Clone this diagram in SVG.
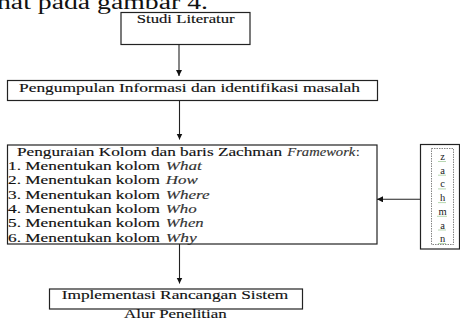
<svg xmlns="http://www.w3.org/2000/svg" width="460" height="322" viewBox="0 0 460 322">
<style>
.box{fill:#fff;stroke:#222;stroke-width:1.2}
.t{font-family:"Liberation Serif","Times New Roman",serif;font-size:13px;fill:#111;stroke:#111;stroke-width:0.15}
.i{font-style:italic;fill:#333;stroke:#333}
.z{font-family:"Liberation Serif","Times New Roman",serif;font-size:10.5px;fill:#222;text-anchor:middle}
.conn line{stroke:#222;stroke-width:1.1;marker-end:url(#ah)}
.sq{stroke:#4a9a3a;stroke-width:0.8;stroke-dasharray:1 1;fill:none}
</style>
<defs>
<marker id="ah" markerUnits="userSpaceOnUse" markerWidth="7" markerHeight="7" refX="6" refY="3" orient="auto">
<path d="M0,0 L6,3 L0,6 z" fill="#111"/>
</marker>
</defs>
<rect width="460" height="322" fill="#fff"/>
<text x="-3" y="8.5" font-family="Liberation Serif,serif" font-size="20" fill="#111" textLength="211" lengthAdjust="spacingAndGlyphs">hat pada gambar 4.</text>

<g id="n1">
<rect class="box" x="121" y="12.5" width="129" height="32"/>
<text class="t" x="136.7" y="23.3" textLength="98" lengthAdjust="spacingAndGlyphs">Studi Literatur</text>
</g>
<g id="n2">
<rect class="box" x="7.5" y="80.5" width="370" height="20"/>
<text class="t" x="19" y="91.7" textLength="341" lengthAdjust="spacingAndGlyphs">Pengumpulan Informasi dan identifikasi masalah</text>
</g>
<g id="n3">
<rect class="box" x="7.5" y="145" width="369.5" height="99"/>
<text class="t" x="17" y="155.7" textLength="265" lengthAdjust="spacingAndGlyphs">Penguraian Kolom dan baris Zachman</text>
<text class="t i" x="287.3" y="155.7" textLength="68" lengthAdjust="spacingAndGlyphs">Framework</text>
<text class="t" x="356" y="155.7">:</text>
<text class="t" x="8" y="170" textLength="152" lengthAdjust="spacingAndGlyphs">1. Menentukan kolom</text>
<text class="t i" x="165.7" y="170" textLength="36" lengthAdjust="spacingAndGlyphs">What</text>
<text class="t" x="8" y="184.3" textLength="152" lengthAdjust="spacingAndGlyphs">2. Menentukan kolom</text>
<text class="t i" x="165.7" y="184.3" textLength="32" lengthAdjust="spacingAndGlyphs">How</text>
<text class="t" x="8" y="198.6" textLength="152" lengthAdjust="spacingAndGlyphs">3. Menentukan kolom</text>
<text class="t i" x="165.7" y="198.6" textLength="44" lengthAdjust="spacingAndGlyphs">Where</text>
<text class="t" x="8" y="212.9" textLength="152" lengthAdjust="spacingAndGlyphs">4. Menentukan kolom</text>
<text class="t i" x="165.7" y="212.9" textLength="31" lengthAdjust="spacingAndGlyphs">Who</text>
<text class="t" x="8" y="227.2" textLength="152" lengthAdjust="spacingAndGlyphs">5. Menentukan kolom</text>
<text class="t i" x="165.7" y="227.2" textLength="38" lengthAdjust="spacingAndGlyphs">When</text>
<text class="t" x="8" y="241.5" textLength="152" lengthAdjust="spacingAndGlyphs">6. Menentukan kolom</text>
<text class="t i" x="165.7" y="241.5" textLength="31" lengthAdjust="spacingAndGlyphs">Why</text>
</g>
<g id="n4">
<rect class="box" x="49.5" y="289" width="253" height="20"/>
<text class="t" x="61.7" y="298.5" textLength="226.6" lengthAdjust="spacingAndGlyphs">Implementasi Rancangan Sistem</text>
</g>
<g id="caption">
<text class="t" x="124" y="317.5" textLength="102.7" lengthAdjust="spacingAndGlyphs">Alur Penelitian</text>
</g>
<g id="n5">
<rect class="box" x="420.5" y="144.5" width="39" height="104.5"/>
<rect x="431.5" y="148.5" width="22" height="96" fill="none" stroke="#666" stroke-width="0.8" stroke-dasharray="1.5 1"/>
<text class="z" x="442.5" y="160">z</text>
<text class="z" x="442.5" y="173.7">a</text>
<text class="z" x="442.5" y="187.4">c</text>
<text class="z" x="442.5" y="201.1">h</text>
<text class="z" x="442.5" y="214.8">m</text>
<text class="z" x="442.5" y="228.5">a</text>
<text class="z" x="442.5" y="242.2">n</text>
<path class="sq" d="M438.5,161.5h8 M438.5,175.2h8 M438.5,188.9h8 M438.5,202.6h8 M437.5,216.3h10 M438.5,230h8 M438.5,243.5h8"/>
</g>
<g class="conn" id="connectors">
<line x1="179" y1="44.5" x2="179" y2="76"/>
<line x1="179.5" y1="100.5" x2="179.5" y2="139.5"/>
<line x1="179.5" y1="244" x2="179.5" y2="283.5"/>
<line x1="420.5" y1="199.3" x2="377" y2="199.3"/>
</g>
</svg>
